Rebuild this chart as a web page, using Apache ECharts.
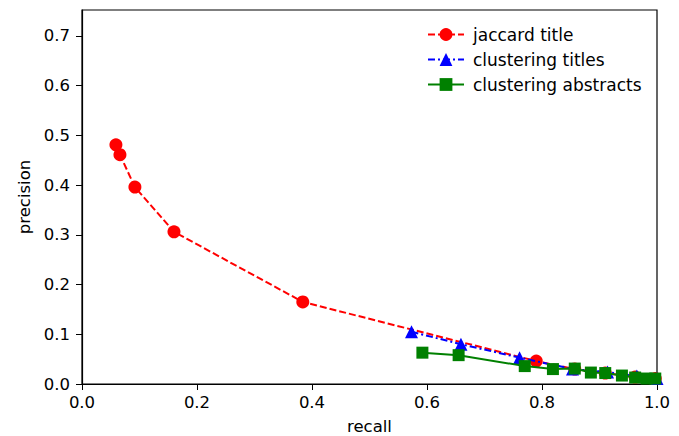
<!DOCTYPE html>
<html><head><meta charset="utf-8">
<script src="https://cdn.jsdelivr.net/npm/echarts@6/dist/echarts.min.js"></script>
<style>html,body{margin:0;padding:0;background:#fff}#c{width:679px;height:436px}</style>
</head><body><div id="c"></div>
<script>
var jaccardRecall = [0.059, 0.066, 0.092, 0.160, 0.384, 0.790, 0.857, 0.910, 0.962, 0.997];
var jaccardPrec   = [0.481, 0.461, 0.396, 0.306, 0.165, 0.046, 0.030, 0.022, 0.014, 0.011];
var titlesRecall  = [0.573, 0.659, 0.761, 0.853, 0.914, 0.965, 1.0];
var titlesPrec    = [0.105, 0.080, 0.053, 0.030, 0.024, 0.016, 0.011];
var abstrRecall   = [0.592, 0.655, 0.770, 0.819, 0.857, 0.885, 0.910, 0.939, 0.962, 0.982, 0.997];
var abstrPrec     = [0.063, 0.058, 0.036, 0.030, 0.031, 0.023, 0.022, 0.017, 0.013, 0.011, 0.011];
var seriesNames = ['jaccard title', 'clustering titles', 'clustering abstracts'];
var xTicks = [0.0, 0.2, 0.4, 0.6, 0.8, 1.0];
var yTicks = [0.0, 0.1, 0.2, 0.3, 0.4, 0.5, 0.6, 0.7];

function pairs(xs, ys){ return xs.map(function(x,i){ return [x, ys[i]]; }); }
var font = 'DejaVu Sans';
var fs = 16.5;
var chart = echarts.init(document.getElementById('c'), null, {renderer:'svg'});
chart.setOption({
  animation:false,
  textStyle:{fontFamily:font},
  grid:{left:82, right:22, top:10, bottom:52, show:true, borderColor:'#000', borderWidth:1.2,
        containLabel:false, outerBoundsMode:'none'},
  legend:{
    top:21, left:422, orient:'vertical', itemGap:8, itemWidth:36, itemHeight:16,
    textStyle:{fontFamily:font, fontSize:17, color:'#000', padding:[0,0,0,4]},
    data:seriesNames
  },
  xAxis:{
    type:'value', min:0, max:1, interval:0.2,
    name:'recall', nameLocation:'middle', nameGap:34,
    nameTextStyle:{fontFamily:font, fontSize:fs, color:'#000'},
    axisLine:{show:true, onZero:false, lineStyle:{color:'#000', width:1.2}},
    axisTick:{show:true, inside:false, length:6, lineStyle:{color:'#000'}},
    axisLabel:{fontFamily:font, fontSize:fs, color:'#000', margin:10,
      formatter:function(v){ return v.toFixed(1); }},
    splitLine:{show:false}
  },
  yAxis:{
    type:'value', min:0, max:0.752, interval:0.1,
    name:'precision', nameLocation:'middle', nameGap:48, nameRotate:90,
    nameTextStyle:{fontFamily:font, fontSize:fs, color:'#000'},
    axisLine:{show:true, onZero:false, lineStyle:{color:'#000', width:1.2}},
    axisTick:{show:true, inside:false, length:6, lineStyle:{color:'#000'}},
    axisLabel:{fontFamily:font, fontSize:fs, color:'#000', margin:12, showMaxLabel:false,
      formatter:function(v){ return yTicks.indexOf(Math.round(v*10)/10) >= 0 && Math.abs(v*10-Math.round(v*10))<1e-6 ? v.toFixed(1) : ''; }},
    splitLine:{show:false}
  },
  series:[
    {name:seriesNames[0], type:'line', data:pairs(jaccardRecall, jaccardPrec),
     symbol:'circle', symbolSize:13, z:2,
     itemStyle:{color:'#ff0000'}, lineStyle:{color:'#ff0000', width:2, type:[7,3]}},
    {name:seriesNames[1], type:'line', data:pairs(titlesRecall, titlesPrec),
     symbol:'triangle', symbolSize:13, z:3,
     itemStyle:{color:'#0000ff'}, lineStyle:{color:'#0000ff', width:2, type:[7,3,2,3]}},
    {name:seriesNames[2], type:'line', data:pairs(abstrRecall, abstrPrec),
     symbol:'rect', symbolSize:12, z:4,
     itemStyle:{color:'#008000'}, lineStyle:{color:'#008000', width:2}}
  ]
});
</script></body></html>
